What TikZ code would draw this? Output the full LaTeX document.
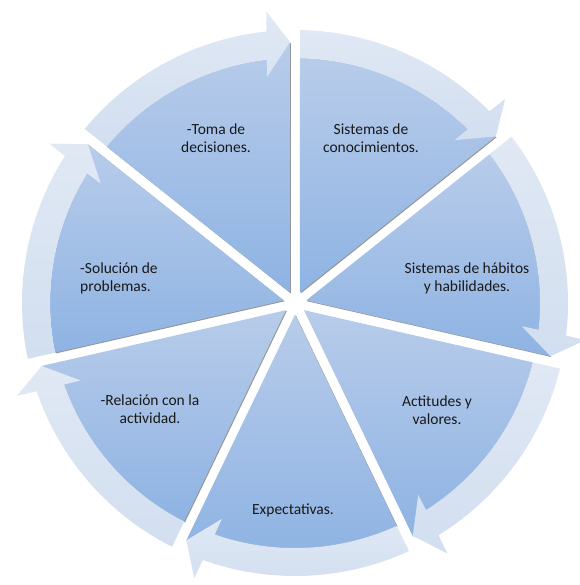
\documentclass[tikz,border=0pt]{standalone}
\usepackage{fontspec}
\setmainfont{Carlito}
\usetikzlibrary{shadows}

\definecolor{wedgetop}{RGB}{184,204,234}
\definecolor{wedgebot}{RGB}{142,179,227}
\definecolor{bandtop}{RGB}{224,232,244}
\definecolor{bandbot}{RGB}{210,223,240}

\tikzset{
    wedge/.style={top color=wedgetop, bottom color=wedgebot,
        drop shadow={shadow xshift=.8pt, shadow yshift=-.8pt, fill=black!70, opacity=.6}},
    band/.style={top color=bandtop, bottom color=bandbot},
    seglabel/.style={text=black!90, align=center, font=\fontsize{15.5}{18}\selectfont}
}

\begin{document}
\begin{tikzpicture}[x=1pt,y=1pt]

    % Fix the page to the size of the picture, center of the cycle at the origin
    \useasboundingbox (-295,-282) rectangle (284,303);

    % Draw the seven segments clockwise, starting at the top
    % each one is a wedge with a curved arrow band along its rim
    \foreach \i in {0,...,6}{
        \pgfmathsetmacro{\a}{90-360/7*\i}
        \pgfmathsetmacro{\b}{\a-360/7}
        % Inner wedge, its edges kept 5pt away from the dividing lines
        \path[wedge] ({\a-180/7}:11.5) -- ({\a-1.17}:245)
            arc[start angle=\a-1.17, end angle=\b+6.6, radius=245]
            -- ({\b+1.1}:261) -- cycle;
        % Arrow band on the rim, its head ending at the next dividing line
        \path[band] ({\a-1.17}:245) -- ({\a-1.05}:273)
            arc[start angle=\a-1.05, end angle=\b+6, radius=273]
            -- ({\b+5.6}:293) -- ({\b+1.1}:261) -- ({\b+7}:228) -- ({\b+6.6}:245)
            arc[start angle=\b+6.6, end angle=\a-1.17, radius=245] -- cycle;
    }

    % Add the labels of the segments
    \node[seglabel] (conoc) at (76,165) {Sistemas de\\conocimientos.};
    \node[seglabel] (habitos) at (172,25) {Sistemas de hábitos\\y habilidades.};
    \node[seglabel] (actitudes) at (142,-107) {Actitudes y\\valores.};
    \node[seglabel] (expect) at (-2,-207) {Expectativas.};
    \node[seglabel] (relacion) at (-145,-106) {-Relación con la\\actividad.};
    \node[seglabel, align=left] (solucion) at (-176,25) {-Solución de\\problemas.};
    \node[seglabel] (toma) at (-79,165) {-Toma de\\decisiones.};

\end{tikzpicture}
\end{document}
